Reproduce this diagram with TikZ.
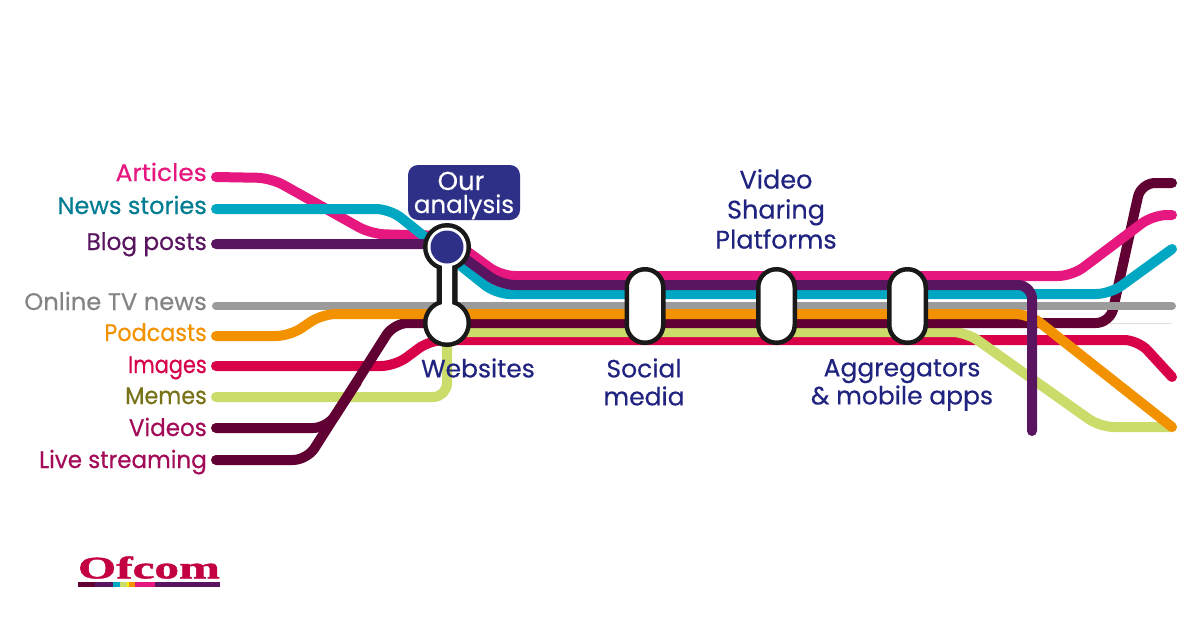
\documentclass[tikz,border=0pt]{standalone}
\usepackage{fontspec}
\usepackage{graphicx}
\setmainfont{Poppins}[FakeBold=0.4]
\newfontfamily\logofont{Liberation Serif Bold}[FakeBold=1.2]
\newcommand{\lx}[2]{\scalebox{#1}[1]{#2}}
\definecolor{cPink}{HTML}{E6177E}
\definecolor{cTeal}{HTML}{00A7C2}
\definecolor{cPurple}{HTML}{5A1560}
\definecolor{cGray}{HTML}{9B9B9B}
\definecolor{cOrange}{HTML}{F39200}
\definecolor{cMaroon}{HTML}{610033}
\definecolor{cGreen}{HTML}{CCDC6B}
\definecolor{cRed}{HTML}{D80049}
\definecolor{cNavy}{HTML}{2E3088}
\definecolor{cInk}{HTML}{20237F}
\tikzset{
  route/.style={line width=10pt,line cap=round,line join=round,rounded corners=#1},
  route/.default=14pt,
  lab/.style={anchor=base east,inner sep=0pt,font=\fontsize{24}{26}\selectfont},
  stoplabel/.style={align=center,inner sep=0pt,text=cInk,font=\fontsize{25}{28}\selectfont},
  pill/.style={draw=black!90,line width=4.5pt,fill=white,rounded corners=18pt,minimum width=36.5pt,minimum height=73.5pt,inner sep=0pt},
}
\begin{document}
\begin{tikzpicture}[x=1pt,y=-1pt]
\useasboundingbox (0,0) rectangle (1200,627);
\fill[white] (0,0) rectangle (1200,627);
% faint line
\draw[line width=1pt,black!12] (1110,323) -- (1172,323);
% routes
\draw[route,cRed] (216,366) -- (395,366) -- (430,340) -- (1138,340) -- (1172,377);
\draw[route,cGreen] (216,397) -- (447,397) -- (447,332) -- (966,332) -- (1100,427) -- (1172,427);
\draw[route,cMaroon] (216,428) -- (327,428) -- (357,382);
\draw[route,cMaroon] (216,460) -- (307,460) -- (394,323) -- (1110,323) -- (1141,183) -- (1172,183);
\draw[route,cPink] (216,177) -- (271,178) -- (371,234) -- (446,236) -- (501,276) -- (1072,276) -- (1153,215) -- (1172,215);
\draw[route,line width=8pt,cGray] (216,306) -- (1172,306);
\draw[route,cTeal] (216,209) -- (390,209) -- (496,294) -- (1110,294) -- (1172,249);
\draw[route,cOrange] (216,336) -- (290,336) -- (322,314) -- (1029,314) -- (1172,427);
\draw[route,cPurple] (216,244) -- (445,244) -- (501,285) -- (1032,285) -- (1032,431);
% interchange
\coordinate (top) at (447,247);
\coordinate (bot) at (447,323);
\fill[black!90] (top) circle (24pt) (bot) circle (24pt) (436.5,247) rectangle (457.5,323);
\fill[white] (top) circle (19.5pt) (bot) circle (19.5pt) (442,247) rectangle (452,323);
\fill[cNavy] (top) circle (16.5pt);
% pills
\node[pill] (social) at (645,306) {};
\node[pill] (vsp) at (776.5,306) {};
\node[pill] (agg) at (907.5,306) {};
% analysis box
\node[fill=cNavy,rounded corners=10pt,minimum width=112pt,minimum height=55pt,inner sep=0pt] (analysis) at (464,192.5) {};
\node[inner sep=0pt,anchor=base,text=white,font=\fontsize{26}{26}\selectfont] (our) at (461,190) {Our};
\node[inner sep=0pt,anchor=base,text=white,font=\fontsize{24.5}{26}\selectfont] (ana) at (464,213) {analysis};
% stop labels
\node[stoplabel] (websites) at (478,368) {Websites};
\node[stoplabel] (sociallab) at (644,382) {Social\\media};
\node[stoplabel] (agglab) at (902,385) {Aggregators\\\& mobile apps};
\node[stoplabel,font=\fontsize{25.5}{30}\selectfont] (vsplab) at (776,209) {Video\\Sharing\\Platforms};
% left labels
\node[lab,text=cPink] (l1) at (207,181) {\lx{1.04}{Articles}};
\node[lab,text=cTeal!75!black] (l2) at (207,214) {News stories};
\node[lab,text=cPurple] (l3) at (207,250) {\lx{0.97}{Blog posts}};
\node[lab,text=cGray!85!black] (l4) at (207,310) {\lx{1.01}{Online TV news}};
\node[lab,text=cOrange] (l5) at (207,341) {\lx{0.93}{Podcasts}};
\node[lab,text=cRed] (l6) at (207,373) {\lx{0.87}{Images}};
\node[lab,text=olive!80!black] (l7) at (207,404) {\lx{0.93}{Memes}};
\node[lab,text=cPink!50!cMaroon] (l8) at (207,436) {\lx{0.96}{Videos}};
\node[lab,text=cPink!50!cMaroon] (l9) at (207,468) {\lx{0.96}{Live streaming}};
% logo
\node[inner sep=0pt,text=cRed!90!black] (logo) at (149,567.5) {\resizebox{142pt}{22pt}{\logofont Ofcom}};
\fill[cPurple] (78,582) rectangle (220,586.5);
\fill[cMaroon] (78,582) rectangle (95,586.5);
\fill[cTeal] (113,582) rectangle (120,586.5);
\fill[cGreen] (120,582) rectangle (127,586.5);
\fill[yellow] (127,582) rectangle (129,586.5);
\fill[cOrange] (129,582) rectangle (135,586.5);
\fill[cPink] (135,582) rectangle (155,586.5);
\end{tikzpicture}
\end{document}
